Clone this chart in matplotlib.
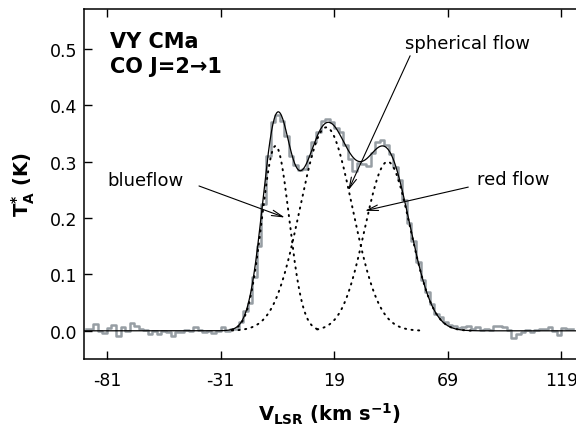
import numpy as np
import matplotlib
matplotlib.use("Agg")
import matplotlib.pyplot as plt

vel_start = -90.0
chan_width = 2.0
t_obs = [
    0.003, 0.003, 0.012, 0.000, -0.003, 0.005, 0.010, -0.010, 0.006, 0.000,
    0.014, 0.009, 0.003, 0.001, -0.006, 0.000, -0.005, 0.000, -0.002, -0.009,
    -0.002, -0.002, 0.002, 0.000, 0.007, 0.001, -0.002, 0.000, -0.003, 0.000,
    0.006, 0.000, 0.004,
    # line profile, -24 ... 74 km/s
    0.004, 0.015, 0.035, 0.050, 0.095, 0.150, 0.225, 0.310, 0.370, 0.383,
    0.372, 0.345, 0.310, 0.295, 0.285, 0.288, 0.310, 0.335, 0.352, 0.372,
    0.376, 0.370, 0.360, 0.352, 0.330, 0.305, 0.283, 0.298, 0.296, 0.292,
    0.315, 0.335, 0.338, 0.330, 0.314, 0.290, 0.268, 0.232, 0.192, 0.160,
    0.122, 0.090, 0.068, 0.048, 0.030, 0.024, 0.016, 0.011, 0.009, 0.005,
    # baseline, 76 ... 124 km/s
    0.006, 0.008, 0.004, 0.006, 0.002, 0.003, 0.001, 0.008, 0.009, 0.006,
    0.002, -0.012, -0.006, -0.002, 0.001, -0.002, 0.002, 0.004, 0.004, 0.006,
    0.000, -0.007, 0.005, 0.003, 0.004,
]

# gaussian fit components: blueflow, spherical flow, red flow
comp_amp = [0.328, 0.361, 0.30]
comp_center = [-6.8, 15.5, 42.5]
comp_sigma = [6.0, 11.5, 10.0]
comp_vmin = [-26.0, -26.0, 11.5]
comp_vmax = [11.5, 58.0, 80.0]

x_ticks = [-81, -31, 19, 69, 119]
y_ticks = [0.0, 0.1, 0.2, 0.3, 0.4, 0.5]

plt.rcParams['font.family'] = ['DejaVu Sans']
plt.rcParams['mathtext.default'] = 'bf'


def gauss(v, a, c, s):
    return a * np.exp(-0.5 * ((v - c) / s) ** 2)


fig = plt.figure(figsize=(5.76, 4.27), dpi=100)
ax = fig.add_axes([84 / 576, 67 / 427, 492 / 576, 350 / 427])

vel = vel_start + chan_width * np.arange(len(t_obs))
ax.step(vel, t_obs, where='mid', color='#979ea4', lw=1.8, zorder=2)

v_fine = np.linspace(-92, 127, 1200)
total = np.zeros_like(v_fine)
for a, c, s, lo, hi in zip(comp_amp, comp_center, comp_sigma, comp_vmin, comp_vmax):
    total += gauss(v_fine, a, c, s)
    vv = np.linspace(lo, hi, 300)
    ax.plot(vv, gauss(vv, a, c, s), color='black', lw=1.4,
            linestyle=(0, (0.6, 2.8)), dash_capstyle='round', zorder=3)
ax.plot(v_fine, total, color='black', lw=0.9, zorder=4)

ax.set_xlim(-91.1, 125.4)
ax.set_ylim(-0.05, 0.571)
ax.set_xticks(x_ticks)
ax.set_xticklabels([str(t) for t in x_ticks])
ax.set_yticks(y_ticks)
ax.set_yticklabels(['%.1f' % t for t in y_ticks])
ax.tick_params(axis='x', direction='in', top=True, length=6, width=1, labelsize=12.5, pad=9)
ax.tick_params(axis='y', direction='in', length=6, width=1, labelsize=12.5, pad=5)
ax.spines['right'].set_visible(False)
for side in ['left', 'bottom', 'top']:
    ax.spines[side].set_linewidth(1.1)

ax.set_xlabel(r'V$_{LSR}$ (km s$^{-1}$)', fontsize=14, fontweight='bold', labelpad=8)
ax.set_ylabel(r'T$_{A}^{*}$ (K)', fontsize=14, fontweight='bold', labelpad=9)

ax.text(-79.7, 0.504, 'VY CMa', fontsize=15, fontweight='bold', va='baseline')
ax.text(-79.7, 0.459, 'CO J=2\u21921', fontsize=15, fontweight='bold', va='baseline')

arrow = dict(arrowstyle='->,head_length=0.8,head_width=0.2', color='black', lw=0.8,
             shrinkA=0, shrinkB=0)
ax.text(-81, 0.268, 'blueflow', fontsize=13, va='center')
ax.annotate('', xy=(-2.7, 0.201), xytext=(-40.5, 0.257), arrowprops=arrow)
ax.text(50.1, 0.511, 'spherical flow', fontsize=13, va='center')
ax.annotate('', xy=(25.2, 0.249), xytext=(52.4, 0.488), arrowprops=arrow)
ax.text(81.7, 0.27, 'red flow', fontsize=13, va='center')
ax.annotate('', xy=(32.5, 0.213), xytext=(78.0, 0.255), arrowprops=arrow)

fig.savefig('out.png', dpi=100)
